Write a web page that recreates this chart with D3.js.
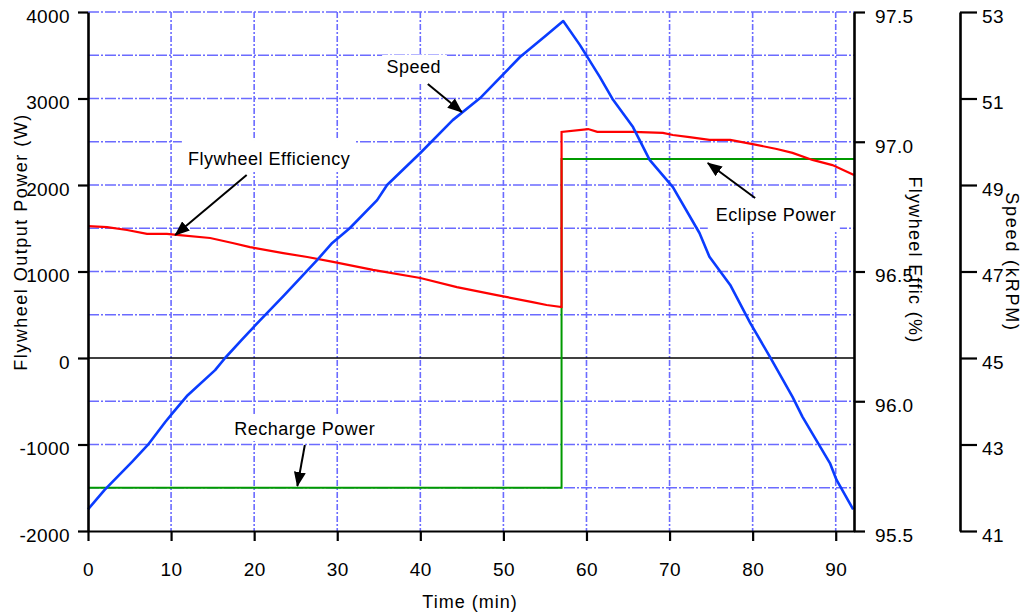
<!DOCTYPE html>
<html lang="en">
<head>
  <meta charset="utf-8">
  <title>flywheel power, efficiency and speed</title>
  <script type="text/javascript" src="https://cdnjs.cloudflare.com/ajax/libs/d3/7.8.5/d3.min.js"></script>
  <style>
    body {
      margin: 0px;
      background: #ffffff;
    }
    svg text {
      font-family: "Liberation Sans", Arial, sans-serif;
      fill: #000000;
    }
  </style>
</head>
<body>
  <script type="text/javascript">
    var width = 1023;
    var height = 613;

    // tick values for the four axes
    var timeTicks = [0, 10, 20, 30, 40, 50, 60, 70, 80, 90];
    var powerTicks = [-2000, -1000, 0, 1000, 2000, 3000, 4000];
    var powerGrid = [-1500, -1000, -500, 500, 1000, 1500, 2000, 2500, 3000, 3500, 4000];
    var effTicks = [95.5, 96.0, 96.5, 97.0, 97.5];
    var speedTicks = [41, 43, 45, 47, 49, 51, 53];

    // speed (kRPM) against time (min)
    var speedTime = [0, 2, 5.3, 7.2, 9.3, 10.2, 12, 15.3, 16.5, 18.5, 20.5, 23.6, 27.6, 29.4,
      31.5, 34.8, 36, 40, 43.9, 47.2, 52, 55.2, 57.2, 59.2, 61.6, 63.2, 65.6, 67.6, 70.4,
      73.6, 74.8, 77.3, 79.7, 82.1, 84.8, 86, 89.3, 90.1, 92.1];
    var speedKrpm = [41.5, 41.95, 42.6, 42.99, 43.52, 43.73, 44.14, 44.72, 45.0, 45.42, 45.83,
      46.45, 47.27, 47.66, 48.0, 48.65, 49.0, 49.74, 50.5, 51.01, 51.96, 52.47, 52.79, 52.24,
      51.5, 50.97, 50.34, 49.58, 48.95, 47.89, 47.34, 46.69, 45.81, 45.02, 44.1, 43.64, 42.57,
      42.18, 41.5];

    // flywheel efficiency (%) against time (min)
    var effTime = [0, 2.3, 4.7, 7.1, 9.5, 10.7, 14.7, 17.4, 19.5, 23.5, 26.4, 29.5, 34.3, 40,
      44.4, 49.2, 53.5, 55.2, 57, 57, 60.2, 61.3, 65.6, 69.2, 70.4, 72.4, 74.8, 77.3, 80, 82.9,
      84.8, 87.2, 89.6, 92.2];
    var effPct = [96.675, 96.671, 96.66, 96.645, 96.645, 96.641, 96.629, 96.61, 96.594, 96.571,
      96.556, 96.537, 96.506, 96.475, 96.44, 96.409, 96.382, 96.371, 96.363, 97.038, 97.049,
      97.038, 97.038, 97.034, 97.026, 97.018, 97.007, 97.007, 96.991, 96.972, 96.957, 96.93,
      96.91, 96.872];

    // output power (W): recharge then eclipse
    var powerTime = [0, 57, 57, 92.2];
    var powerW = [-1500, -1500, 2300, 2300];

    // callouts, in time / power units
    var noteText = ["Flywheel Efficiency", "Speed", "Eclipse Power", "Recharge Power"];
    var noteAt = [[21.8, 2231], [39.2, 3295], [82.8, 1584], [26.1, -890]];
    var noteBox = [[11.3, 32.1, 2520, 2150], [35.4, 43.2, 3503, 3191],
      [74.6, 90.5, 1827, 1457], [17.1, 35.1, -647, -960]];
    var noteArrow = [[19.1, 2116, 10.5, 1422], [40.9, 3168, 45.0, 2844],
      [80.3, 1850, 74.6, 2254], [26.1, -1006, 25.2, -1480]];

    var plotLeft = 88, plotRight = 854, plotTop = 12, plotBottom = 531;

    var x = d3.scaleLinear().domain([0, 92.2]).range([plotLeft, plotRight]);
    var yP = d3.scaleLinear().domain([-2000, 4000]).range([plotBottom, plotTop]);
    var yE = d3.scaleLinear().domain([95.5, 97.5]).range([plotBottom, plotTop]);
    var yS = d3.scaleLinear().domain([41, 53]).range([plotBottom, plotTop]);

    var svg = d3.select("body").append("svg")
      .attr("width", width)
      .attr("height", height);

    svg.append("defs").append("marker")
      .attr("id", "head")
      .attr("markerUnits", "userSpaceOnUse")
      .attr("markerWidth", 16).attr("markerHeight", 12)
      .attr("refX", 14).attr("refY", 6)
      .attr("orient", "auto")
      .append("path")
      .attr("d", "M0,0 L15,6 L0,12 Z")
      .attr("fill", "#000");

    //////////// GRID

    svg.selectAll(".hgrid").data(powerGrid).enter().append("line")
      .attr("x1", plotLeft).attr("x2", plotRight)
      .attr("y1", function (d) { return yP(d); })
      .attr("y2", function (d) { return yP(d); })
      .attr("stroke", "#6b6bff").attr("stroke-width", 1.6)
      .attr("stroke-dasharray", "11,2,2,2");

    svg.selectAll(".vgrid").data(timeTicks.slice(1)).enter().append("line")
      .attr("x1", function (d) { return x(d); })
      .attr("x2", function (d) { return x(d); })
      .attr("y1", plotTop).attr("y2", plotBottom)
      .attr("stroke", "#6b6bff").attr("stroke-width", 1.6)
      .attr("stroke-dasharray", "6,2,2,2");

    // zero line
    svg.append("line")
      .attr("x1", plotLeft).attr("x2", plotRight)
      .attr("y1", yP(0)).attr("y2", yP(0))
      .attr("stroke", "#000").attr("stroke-width", 1.5);

    // white boxes behind the callout text
    svg.selectAll(".nbox").data(noteBox).enter().append("rect")
      .attr("x", function (d) { return x(d[0]); })
      .attr("y", function (d) { return yP(d[2]); })
      .attr("width", function (d) { return x(d[1]) - x(d[0]); })
      .attr("height", function (d) { return yP(d[3]) - yP(d[2]); })
      .attr("fill", "#fff");

    //////////// SERIES

    var powerLine = d3.line()
      .x(function (d, i) { return x(powerTime[i]); })
      .y(function (d) { return yP(d); });
    svg.append("path").datum(powerW)
      .attr("d", powerLine)
      .attr("fill", "none").attr("stroke", "#009a00").attr("stroke-width", 2);

    var effLine = d3.line()
      .x(function (d, i) { return x(effTime[i]); })
      .y(function (d) { return yE(d); });
    svg.append("path").datum(effPct)
      .attr("d", effLine)
      .attr("fill", "none").attr("stroke", "#ff0000").attr("stroke-width", 2.2);

    var speedLine = d3.line()
      .x(function (d, i) { return x(speedTime[i]); })
      .y(function (d) { return yS(d); });
    svg.append("path").datum(speedKrpm)
      .attr("d", speedLine)
      .attr("fill", "none").attr("stroke", "#0a3cff").attr("stroke-width", 2.6)
      .attr("stroke-linejoin", "round");

    //////////// AXES

    function styleAxis(g) {
      g.select(".domain").attr("stroke-width", 2.6);
      g.selectAll(".tick line").attr("stroke-width", 2.2);
      g.selectAll(".tick text")
        .style("font-size", "19px")
        .style("letter-spacing", "0.4px");
    }

    // plain hyphen for negatives, like the original
    function plain(d) { return String(d); }

    var xAxis = svg.append("g")
      .attr("transform", "translate(0," + plotBottom + ")")
      .call(d3.axisBottom(x).tickValues(timeTicks).tickSize(10).tickSizeOuter(0).tickPadding(22)
        .tickFormat(plain));
    styleAxis(xAxis);
    xAxis.select(".domain").attr("stroke-width", 2);

    var pAxis = svg.append("g")
      .attr("transform", "translate(" + plotLeft + ",0)")
      .call(d3.axisLeft(yP).tickValues(powerTicks).tickSize(10).tickSizeOuter(0).tickPadding(8)
        .tickFormat(plain));
    styleAxis(pAxis);
    pAxis.selectAll(".tick text").attr("dy", "0.55em");

    var eAxis = svg.append("g")
      .attr("transform", "translate(" + plotRight + ",0)")
      .call(d3.axisRight(yE).tickValues(effTicks).tickSize(11).tickSizeOuter(0).tickPadding(10)
        .tickFormat(d3.format(".1f")));
    styleAxis(eAxis);
    eAxis.selectAll(".tick text").attr("dy", "0.55em");

    var sAxis = svg.append("g")
      .attr("transform", "translate(960,0)")
      .call(d3.axisRight(yS).tickValues(speedTicks).tickSize(17).tickSizeOuter(0).tickPadding(5));
    styleAxis(sAxis);
    sAxis.selectAll(".tick text").attr("dy", "0.55em");

    //////////// TITLES

    svg.append("text")
      .attr("x", 470).attr("y", 608)
      .attr("text-anchor", "middle")
      .style("font-size", "18px").style("letter-spacing", "1px")
      .text("Time (min)");

    svg.append("text")
      .attr("transform", "translate(27,242) rotate(-90)")
      .attr("text-anchor", "middle")
      .style("font-size", "18px").style("letter-spacing", "1.5px")
      .text("Flywheel Output Power (W)");

    svg.append("text")
      .attr("transform", "translate(909,260) rotate(90)")
      .attr("text-anchor", "middle")
      .style("font-size", "18px").style("letter-spacing", "1.3px")
      .text("Flywheel Effic (%)");

    svg.append("text")
      .attr("transform", "translate(1006,262) rotate(90)")
      .attr("text-anchor", "middle")
      .style("font-size", "18px").style("letter-spacing", "1.8px")
      .text("Speed (kRPM)");

    //////////// CALLOUTS

    svg.selectAll(".note").data(noteText).enter().append("text")
      .attr("x", function (d, i) { return x(noteAt[i][0]); })
      .attr("y", function (d, i) { return yP(noteAt[i][1]); })
      .attr("text-anchor", "middle")
      .style("font-size", "18px").style("letter-spacing", "0.5px")
      .text(function (d) { return d; });

    svg.selectAll(".arrow").data(noteArrow).enter().append("line")
      .attr("x1", function (d) { return x(d[0]); })
      .attr("y1", function (d) { return yP(d[1]); })
      .attr("x2", function (d) { return x(d[2]); })
      .attr("y2", function (d) { return yP(d[3]); })
      .attr("stroke", "#000").attr("stroke-width", 2)
      .attr("marker-end", "url(#head)");
  </script>
</body>
</html>
